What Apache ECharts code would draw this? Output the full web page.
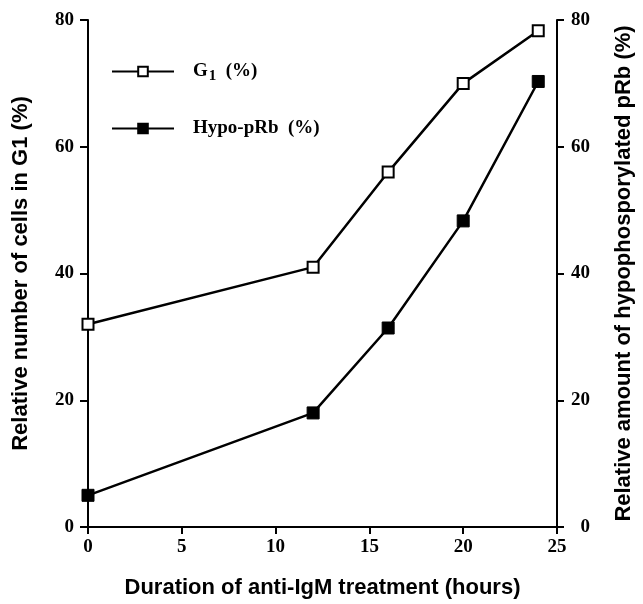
<!DOCTYPE html>
<html>
<head>
<meta charset="utf-8">
<script src="https://cdn.jsdelivr.net/npm/echarts@6/dist/echarts.min.js"></script>
<style>
html,body{margin:0;padding:0;background:#fff;}
#chart{width:643px;height:604px;}
</style>
</head>
<body>
<div id="chart"></div>
<script>
var hours = [0, 12, 16, 20, 24];
var g1Values = [32, 41, 56, 70, 78.3];
var hypoValues = [5, 18, 31.4, 48.3, 70.3];
var xTicks = [0, 5, 10, 15, 20, 25];
var yTicks = [0, 20, 40, 60, 80];

var chart = echarts.init(document.getElementById('chart'), null, {renderer: 'canvas'});
var serif = '"Liberation Serif", "DejaVu Serif", serif';
var sans = '"Liberation Sans", Arial, sans-serif';

function pairs(xs, ys) { return xs.map(function (x, i) { return [x, ys[i]]; }); }

var axisLineStyle = {show: true, lineStyle: {color: '#000', width: 2}};
var labelBase = {color: '#000', fontFamily: serif, fontWeight: 'bold', fontSize: 19};
var nameBase = {color: '#000', fontFamily: sans, fontWeight: 'bold', fontSize: 22};

chart.setOption({
  backgroundColor: '#fff',
  animation: false,
  grid: {left: 88, right: 78, top: 20, bottom: 73, containLabel: false},
  legend: {
    orient: 'vertical',
    left: 111,
    top: 62,
    padding: 0,
    itemWidth: 62,
    itemHeight: 12,
    itemGap: 35,
    data: ['G1', 'Hypo'],
    formatter: function (name) {
      return name === 'G1' ? '{n|G}{s|1}{n|  (%)}' : '{n|Hypo-pRb  (%)}';
    },
    textStyle: {
      color: '#000',
      padding: [0, 0, 0, 14],
      rich: {
        n: {fontFamily: serif, fontWeight: 'bold', fontSize: 19, color: '#000'},
        s: {fontFamily: serif, fontWeight: 'bold', fontSize: 15, color: '#000', padding: [10, 0, 0, 1]}
      }
    }
  },
  xAxis: {
    type: 'value',
    min: 0, max: 25, interval: 5,
    name: 'Duration of anti-IgM treatment (hours)',
    nameLocation: 'middle',
    nameGap: 50,
    nameTextStyle: nameBase,
    axisLine: axisLineStyle,
    axisTick: {show: true, inside: false, length: 7, lineStyle: {color: '#000', width: 2}},
    axisLabel: Object.assign({margin: 11, formatter: function (v) { return xTicks.indexOf(v) >= 0 ? String(v) : ''; }}, labelBase),
    splitLine: {show: false}
  },
  yAxis: [
    {
      type: 'value', position: 'left',
      min: 0, max: 80, interval: 20,
      name: 'Relative number of cells in G1 (%)',
      nameLocation: 'middle', nameRotate: 90, nameGap: 56,
      nameTextStyle: nameBase,
      axisLine: axisLineStyle,
      axisTick: {show: true, inside: false, length: 8, lineStyle: {color: '#000', width: 2}},
      axisLabel: Object.assign({margin: 14, formatter: function (v) { return yTicks.indexOf(v) >= 0 ? String(v) : ''; }}, labelBase),
      splitLine: {show: false}
    },
    {
      type: 'value', position: 'right',
      min: 0, max: 80, interval: 20,
      name: 'Relative amount of hypophosporylated pRb (%)',
      nameLocation: 'middle', nameRotate: 90, nameGap: 56,
      nameTextStyle: nameBase,
      axisLine: axisLineStyle,
      axisTick: {show: true, inside: false, length: 7, lineStyle: {color: '#000', width: 2}},
      axisLabel: Object.assign({margin: 33, align: 'right', formatter: function (v) { return yTicks.indexOf(v) >= 0 ? String(v) : ''; }}, labelBase),
      splitLine: {show: false}
    }
  ],
  series: [
    {
      name: 'G1', type: 'line', yAxisIndex: 0,
      data: pairs(hours, g1Values),
      symbol: 'rect', symbolSize: 11, showAllSymbol: true,
      lineStyle: {color: '#000', width: 2.5},
      itemStyle: {color: '#fff', borderColor: '#000', borderWidth: 2},
      z: 3
    },
    {
      name: 'Hypo', type: 'line', yAxisIndex: 1,
      data: pairs(hours, hypoValues),
      symbol: 'rect', symbolSize: 12, showAllSymbol: true,
      lineStyle: {color: '#000', width: 2.5},
      itemStyle: {color: '#000', borderColor: '#000', borderWidth: 1},
      z: 3
    }
  ]
});
</script>
</body>
</html>
